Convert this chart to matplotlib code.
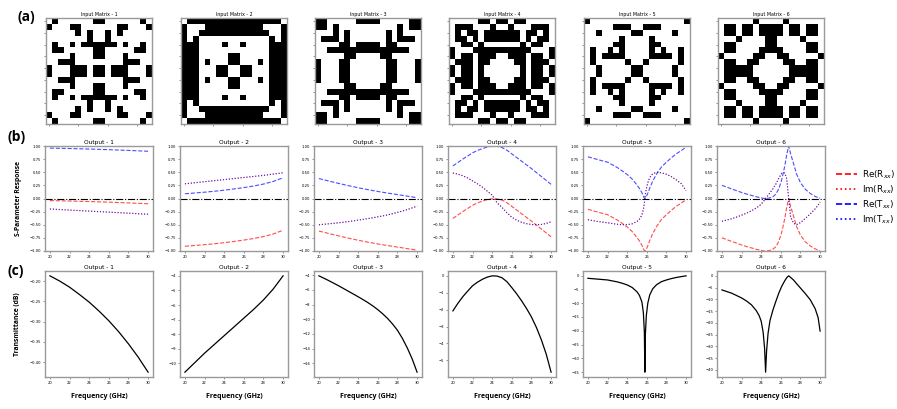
import numpy as np
import matplotlib
matplotlib.use("Agg")
import matplotlib.pyplot as plt
from matplotlib.lines import Line2D
from matplotlib.ticker import MultipleLocator

# ---------------- data ----------------
# (a) upper-left 9x9 quadrant of each 18x18 mirror-symmetric input matrix (1 = black)
quad_1 = ["010000001", "100011000", "000001010", "000000010", "010010111",
          "011000001", "000010001", "001110000", "100011101"]
quad_2 = ["011111111", "100011111", "100111111", "101000000", "111000010",
          "111000000", "111000001", "111010001", "111000110"]
quad_3 = ["110000011", "110100000", "000101000", "011101000", "000011011",
          "001111111", "000001100", "100011000", "100011000"]
quad_4 = ["000001101", "011100010", "010110111", "011010111", "001101000",
          "100011111", "101101110", "011101100", "101101000"]
quad_5 = ["100000000", "000001110", "001000001", "000000100", "000001100",
          "010010100", "010111100", "010000010", "001000001"]
quad_6 = ["000000100", "011011011", "011011011", "000100001", "011000001",
          "011000011", "100000110", "011001100", "011111000"]

# (b)/(c) frequency grids (GHz)
freq_1 = [20, 21, 22, 23, 24, 25, 26, 27, 28, 29, 30]
freq_2 = [20, 21, 22, 23, 24, 25, 26, 27, 28, 29, 30]
freq_3 = [20, 21, 22, 23, 24, 25, 26, 27, 28, 29, 30]
freq_3_db = [20, 20.5, 21, 21.5, 22, 22.5, 23, 23.5, 24, 24.5, 25, 25.5, 26, 26.5,
             27, 27.5, 28, 28.5, 29, 29.5, 30]
freq_4 = [20, 20.5, 21, 21.5, 22, 22.5, 23, 23.5, 24, 24.5, 25, 25.5, 26, 26.5,
          27, 27.5, 28, 28.5, 29, 29.5, 30]
freq_5 = [20, 21, 22, 23, 23.5, 24, 24.5, 25, 25.25, 25.5, 25.65, 25.75, 25.8,
          25.85, 25.95, 26.1, 26.3, 26.6, 27, 27.5, 28, 28.5, 29, 29.5, 30]
freq_6 = [20, 21, 22, 22.5, 23, 23.5, 23.8, 24.0, 24.2, 24.35, 24.45, 24.55, 24.7, 24.9,
          25.2, 25.5, 25.8, 26.1, 26.4, 26.6, 26.8, 27.0, 27.3, 27.6, 28, 28.5, 29, 29.5,
          29.8, 30]

# Output 1
re_r_1 = [-0.040, -0.044, -0.048, -0.053, -0.058, -0.064, -0.070, -0.077, -0.084, -0.092, -0.100]
im_r_1 = [-0.200, -0.210, -0.220, -0.230, -0.240, -0.250, -0.260, -0.270, -0.280, -0.290, -0.300]
re_t_1 = [0.960, 0.956, 0.952, 0.947, 0.942, 0.936, 0.930, 0.923, 0.916, 0.908, 0.900]
im_t_1 = [-0.200, -0.210, -0.220, -0.230, -0.240, -0.250, -0.260, -0.270, -0.280, -0.290, -0.300]
db_1 = [-0.187, -0.200, -0.215, -0.233, -0.252, -0.274, -0.298, -0.325, -0.355, -0.388, -0.425]

# Output 2
re_r_2 = [-0.910, -0.895, -0.880, -0.862, -0.842, -0.818, -0.792, -0.762, -0.725, -0.675, -0.605]
im_r_2 = [0.280, 0.300, 0.320, 0.340, 0.360, 0.380, 0.400, 0.420, 0.440, 0.465, 0.490]
re_t_2 = [0.090, 0.105, 0.120, 0.138, 0.158, 0.182, 0.208, 0.238, 0.275, 0.325, 0.395]
im_t_2 = [0.280, 0.300, 0.320, 0.340, 0.360, 0.380, 0.400, 0.420, 0.440, 0.465, 0.490]
db_2 = [-10.6, -9.95, -9.3, -8.7, -8.1, -7.5, -6.9, -6.3, -5.65, -4.9, -4.0]

# Output 3
re_r_3 = [-0.620, -0.667, -0.712, -0.755, -0.795, -0.832, -0.866, -0.897, -0.925, -0.955, -0.985]
im_r_3 = [-0.500, -0.482, -0.463, -0.440, -0.412, -0.383, -0.350, -0.313, -0.265, -0.212, -0.145]
re_t_3 = [0.380, 0.333, 0.288, 0.245, 0.205, 0.168, 0.134, 0.103, 0.075, 0.045, 0.015]
im_t_3 = [-0.500, -0.482, -0.463, -0.440, -0.412, -0.383, -0.350, -0.313, -0.265, -0.212, -0.145]
db_3 = [-4.10, -4.42, -4.75, -5.10, -5.45, -5.82, -6.20, -6.57, -6.95, -7.34, -7.75,
        -8.20, -8.70, -9.27, -9.90, -10.65, -11.50, -12.60, -13.90, -15.40, -17.20]

# Output 4
re_r_4 = [-0.380, -0.315, -0.250, -0.190, -0.130, -0.085, -0.050, -0.020, -0.004, -0.007, -0.030,
          -0.080, -0.150, -0.220, -0.290, -0.360, -0.430, -0.505, -0.580, -0.655, -0.730]
im_r_4 = [0.485, 0.465, 0.433, 0.392, 0.336, 0.279, 0.218, 0.140, 0.063, -0.083, -0.170,
          -0.271, -0.357, -0.414, -0.454, -0.480, -0.495, -0.500, -0.494, -0.475, -0.444]
re_t_4 = [0.620, 0.685, 0.750, 0.810, 0.870, 0.915, 0.950, 0.980, 0.996, 0.993, 0.970,
          0.920, 0.850, 0.780, 0.710, 0.640, 0.570, 0.495, 0.420, 0.345, 0.270]
im_t_4 = [0.485, 0.465, 0.433, 0.392, 0.336, 0.279, 0.218, 0.140, 0.063, -0.083, -0.170,
          -0.271, -0.357, -0.414, -0.454, -0.480, -0.495, -0.500, -0.494, -0.475, -0.444]
db_4 = [-2.08, -1.64, -1.25, -0.92, -0.60, -0.39, -0.22, -0.09, -0.015, -0.03, -0.13,
        -0.36, -0.71, -1.08, -1.49, -1.94, -2.44, -3.05, -3.77, -4.62, -5.69]

# Output 5
re_r_5 = [-0.206, -0.259, -0.308, -0.411, -0.475, -0.543, -0.628, -0.743, -0.809, -0.890, -0.955,
          -0.991, -1.000, -0.993, -0.965, -0.900, -0.800, -0.669, -0.532, -0.397, -0.308, -0.224,
          -0.149, -0.088, -0.023]
im_r_5 = [-0.404, -0.438, -0.462, -0.492, -0.499, -0.498, -0.483, -0.437, -0.393, -0.313, -0.207,
          -0.094, 0.000, 0.083, 0.184, 0.300, 0.400, 0.471, 0.499, 0.489, 0.462, 0.417,
          0.356, 0.283, 0.150]
re_t_5 = [0.794, 0.741, 0.692, 0.589, 0.525, 0.457, 0.372, 0.257, 0.191, 0.110, 0.045,
          0.009, 0.000, 0.007, 0.035, 0.100, 0.200, 0.331, 0.468, 0.603, 0.692, 0.776,
          0.851, 0.912, 0.977]
im_t_5 = [-0.404, -0.438, -0.462, -0.492, -0.499, -0.498, -0.483, -0.437, -0.393, -0.313, -0.207,
          -0.094, 0.000, 0.083, 0.184, 0.300, 0.400, 0.471, 0.499, 0.489, 0.462, 0.417,
          0.356, 0.283, 0.150]
db_5 = [-1.0, -1.3, -1.6, -2.3, -2.8, -3.4, -4.3, -5.9, -7.2, -9.6, -13.5, -20.5, -35.0,
        -21.5, -14.5, -10.0, -7.0, -4.8, -3.3, -2.2, -1.6, -1.1, -0.7, -0.4, -0.1]

# Output 6
re_r_6 = [-0.749, -0.818, -0.885, -0.915, -0.941, -0.967, -0.980, -0.988, -0.996, -0.999,
          -1.000, -0.999, -0.996, -0.987, -0.965, -0.917, -0.814, -0.637, -0.383, -0.168,
          0.000, -0.149, -0.339, -0.532, -0.698, -0.826, -0.904, -0.960, -0.983, -0.996]
im_r_6 = [-0.434, -0.386, -0.319, -0.279, -0.235, -0.179, -0.140, -0.108, -0.063, -0.028,
          0.000, 0.025, 0.059, 0.111, 0.185, 0.276, 0.389, 0.481, 0.486, 0.374,
          0.000, -0.356, -0.473, -0.499, -0.459, -0.379, -0.294, -0.196, -0.128, -0.067]
re_t_6 = [0.251, 0.182, 0.115, 0.085, 0.059, 0.033, 0.020, 0.012, 0.004, 0.001,
          0.000, 0.001, 0.004, 0.013, 0.035, 0.083, 0.186, 0.363, 0.617, 0.832,
          1.000, 0.851, 0.661, 0.468, 0.302, 0.174, 0.096, 0.040, 0.017, 0.004]
im_t_6 = [-0.434, -0.386, -0.319, -0.279, -0.235, -0.179, -0.140, -0.108, -0.063, -0.028,
          0.000, 0.025, 0.059, 0.111, 0.185, 0.276, 0.389, 0.481, 0.486, 0.374,
          0.000, -0.356, -0.473, -0.499, -0.459, -0.379, -0.294, -0.196, -0.128, -0.067]
db_6 = [-6.0, -7.4, -9.4, -10.7, -12.3, -14.8, -17.0, -19.3, -24.0, -31.0,
        -41.0, -32.0, -24.5, -19.0, -14.5, -10.8, -7.3, -4.4, -2.1, -0.8,
        0.0, -0.7, -1.8, -3.3, -5.2, -7.6, -10.2, -14.0, -17.8, -23.5]

legend_labels = ["Re(R$_{xx}$)", "Im(R$_{xx}$)", "Re(T$_{xx}$)", "Im(T$_{xx}$)"]
x_ticks = [20, 22, 24, 26, 28, 30]
s_ticks = [-1.0, -0.75, -0.5, -0.25, 0.0, 0.25, 0.5, 0.75, 1.0]

quads = [quad_1, quad_2, quad_3, quad_4, quad_5, quad_6]
freqs = [freq_1, freq_2, freq_3, freq_4, freq_5, freq_6]
freqs_db = [freq_1, freq_2, freq_3_db, freq_4, freq_5, freq_6]
re_r = [re_r_1, re_r_2, re_r_3, re_r_4, re_r_5, re_r_6]
im_r = [im_r_1, im_r_2, im_r_3, im_r_4, im_r_5, im_r_6]
re_t = [re_t_1, re_t_2, re_t_3, re_t_4, re_t_5, re_t_6]
im_t = [im_t_1, im_t_2, im_t_3, im_t_4, im_t_5, im_t_6]
dbs = [db_1, db_2, db_3, db_4, db_5, db_6]
db_steps = [0.05, 1, 2, 1, 5, 5]

# ---------------- drawing ----------------
plt.rcParams["font.family"] = ["DejaVu Sans"]
W, H = 897, 409
fig = plt.figure(figsize=(W / 100, H / 100), dpi=100)


def rect(l, t, w, h):
    return [l / W, 1 - (t + h) / H, w / W, h / H]


def full_matrix(q):
    a = np.array([[int(c) for c in row] for row in q])
    top = np.hstack([a, a[:, ::-1]])
    return np.vstack([top, top[::-1, :]])


def style(ax):
    for s in ax.spines.values():
        s.set_color("#999999")
        s.set_linewidth(1.0)
    ax.tick_params(length=1.6, width=0.4, pad=1.2, labelsize=2.7, color="#444444")


lefts = [45, 180, 314, 448, 583, 717]
LBL = dict(family="Open Sans", fontweight="bold")

# row (a)
for i in range(6):
    ax = fig.add_axes(rect(lefts[i] + 1, 18, 106, 106))
    ax.imshow(full_matrix(quads[i]), cmap="binary", vmin=0, vmax=1, interpolation="nearest")
    ax.set_xticks([0, 5, 10, 15])
    ax.set_yticks(range(0, 18, 2))
    ax.set_xticklabels([])
    ax.set_yticklabels([])
    ax.set_title(f"Input Matrix - {i + 1}", fontsize=3.4, pad=1.5)
    style(ax)

# row (b)
for i in range(6):
    ax = fig.add_axes(rect(lefts[i], 146, 108, 105))
    f = freqs[i]
    ax.plot(f, re_r[i], color="red", ls="--", lw=0.8, alpha=0.7)
    ax.plot(f, im_r[i], color="red", ls=":", lw=0.8, alpha=0.7)
    ax.plot(f, re_t[i], color="blue", ls="--", lw=0.8, alpha=0.7)
    ax.plot(f, im_t[i], color="blue", ls=":", lw=0.8, alpha=0.7)
    ax.axhline(0, color="black", ls="-.", lw=0.8)
    ax.set_ylim(-1, 1)
    ax.set_yticks(s_ticks)
    ax.set_xticks(x_ticks)
    ax.set_title(f"Output - {i + 1}", fontsize=4.2, pad=1.5)
    style(ax)

# row (c)
for i in range(6):
    ax = fig.add_axes(rect(lefts[i], 271, 108, 106))
    ax.plot(freqs_db[i], dbs[i], color="black", lw=0.9)
    ax.yaxis.set_major_locator(MultipleLocator(db_steps[i]))
    ax.set_xticks(x_ticks)
    ax.set_title(f"Output - {i + 1}", fontsize=4.2, pad=1.5)
    ax.set_xlabel("Frequency (GHz)", fontsize=5, labelpad=6, **LBL)
    style(ax)

fig.text(18 / W, 1 - 199 / H, "S-Parameter Response", rotation=90, ha="center",
         va="center", fontsize=4.9, **LBL)
fig.text(18 / W, 1 - 324 / H, "Transmittance (dB)", rotation=90, ha="center",
         va="center", fontsize=4.9, **LBL)
fig.text(17 / W, 1 - 17 / H, "(a)", ha="left", va="center", fontsize=10, **LBL)
fig.text(8 / W, 1 - 137 / H, "(b)", ha="left", va="center", fontsize=10, **LBL)
fig.text(8 / W, 1 - 271 / H, "(c)", ha="left", va="center", fontsize=10, **LBL)

handles = [Line2D([], [], color="red", ls="--", lw=1.2),
           Line2D([], [], color="red", ls=":", lw=1.2),
           Line2D([], [], color="blue", ls="--", lw=1.2),
           Line2D([], [], color="blue", ls=":", lw=1.2)]
fig.legend(handles, legend_labels, loc="center left", bbox_to_anchor=(832 / W, 1 - 197 / H),
           frameon=False, fontsize=6.3, handlelength=2.5, labelspacing=0.3,
           handletextpad=0.5, borderaxespad=0)

fig.savefig("out.png", dpi=100)
